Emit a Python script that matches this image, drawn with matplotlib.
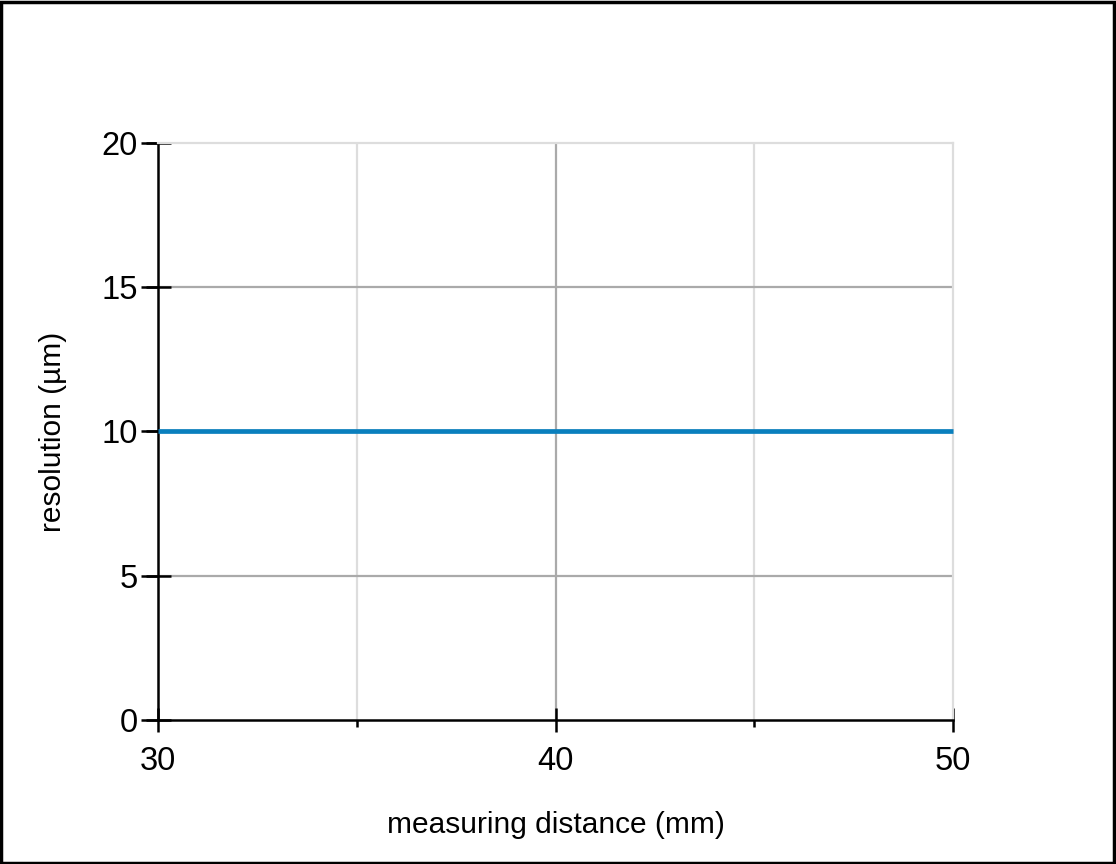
import matplotlib.pyplot as plt
from matplotlib.patches import Rectangle

# ------------------------------------------------------------
# Data
# ------------------------------------------------------------
distance_mm = [30, 50]
resolution_um = [10, 10]

x_major = [30, 40, 50]
x_minor = [35, 45]
y_ticks = [0, 5, 10, 15, 20]

plt.rcParams['font.family'] = ['Liberation Sans', 'DejaVu Sans']

fig = plt.figure(figsize=(11.16, 8.64), dpi=100)
ax = fig.add_axes([0.1416, 0.1667, 0.7125, 0.6678])

# ------------------------------------------------------------
# Plot
# ------------------------------------------------------------
ax.plot(distance_mm, resolution_um, color='#0a7fbd', linewidth=3.4,
        solid_capstyle='butt', zorder=3, clip_on=False)

ax.set_xlim(30, 50)
ax.set_ylim(0, 20)
ax.set_xticks(x_major)
ax.set_xticks(x_minor, minor=True)
ax.set_yticks(y_ticks)
# second set of y ticks on the same spots -> longer outside part
ax.set_yticks(y_ticks, minor=True)
ax.yaxis.remove_overlapping_locs = False

# grid: dark for major x / y, light for minor x
for xv in x_major[1:-1]:
    ax.axvline(xv, color='#aaaaaa', linewidth=1.6, zorder=1)
for xv in x_minor:
    ax.axvline(xv, color='#dddddd', linewidth=1.6, zorder=1)
for yv in y_ticks[1:-1]:
    ax.axhline(yv, color='#aaaaaa', linewidth=1.6, zorder=1)

for side in ['top', 'right']:
    ax.spines[side].set_color('#dddddd')
    ax.spines[side].set_linewidth(1.6)
for side in ['left', 'bottom']:
    ax.spines[side].set_color('black')
    ax.spines[side].set_linewidth(1.8)

ax.tick_params(axis='y', which='major', direction='inout', length=18, width=1.8,
               labelsize=23.5, pad=5.5)
ax.tick_params(axis='y', which='minor', direction='out', length=12, width=1.8)
ax.tick_params(axis='x', which='major', direction='inout', length=17, width=1.8,
               labelsize=23.5, pad=10)
ax.tick_params(axis='x', which='minor', direction='out', length=5, width=1.8)

ax.set_xlabel('measuring distance (mm)', fontsize=21.5, labelpad=25)
ax.set_ylabel('resolution (µm)', fontsize=21.5, labelpad=25)

# frame around the whole figure
fig.patches.append(Rectangle((0.001, 0.001), 0.997, 0.997, transform=fig.transFigure,
                             fill=False, edgecolor='black', linewidth=2.5))

plt.savefig('out.png', dpi=100)
